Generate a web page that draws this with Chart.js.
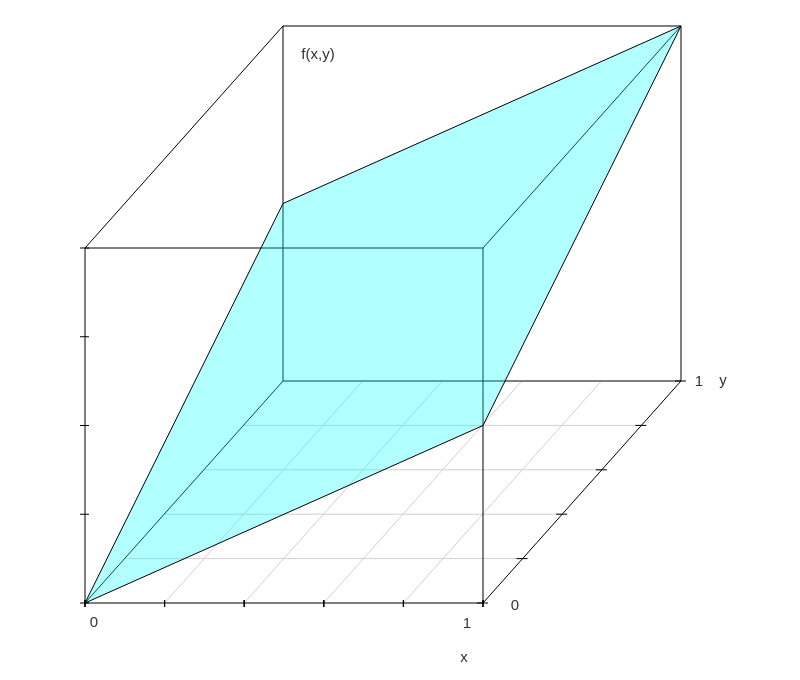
<!DOCTYPE html>
<html><head><meta charset="utf-8">
<script src="https://cdn.jsdelivr.net/npm/chart.js@4"></script>
<style>html,body{margin:0;padding:0;background:#fff}canvas{display:block}</style>
</head><body>
<canvas id="c" width="800" height="680"></canvas>
<script>
// ---- data ----
const xTicks = [0, 0.2, 0.4, 0.6, 0.8, 1];
const yTicks = [0, 0.2, 0.4, 0.6, 0.8, 1];
const zTicks = [0, 0.25, 0.5, 0.75, 1];
const xTickLabels = ['0', '1'];
const yTickLabels = ['0', '1'];
const surfaceX = [0, 1, 1, 0];
const surfaceY = [0, 0, 1, 1];
const surfaceZ = [0, 0.5, 1, 0.5];
const xTitle = 'x';
const yTitle = 'y';
const zTitle = 'f(x,y)';

// ---- oblique projection (persp-like) ----
const SX = 398, SZ = 355;           // pixels per unit x / z
const KX = 198 / SX, KY = 222 / SZ; // depth shift of y axis
function P(x, y, z) { return { x: x + KX * y, y: z + KY * y }; }
function off(p, dx, dy) { return { x: p.x + dx / SX, y: p.y - dy / SZ }; }

const datasets = [];
function seg(a, b, color, order) {
  datasets.push({ data: [a, b], showLine: true, borderColor: color, borderWidth: 1,
    pointRadius: 0, fill: false, tension: 0, order: order });
}

// surface polygon (on top)
const surf = surfaceX.map((x, i) => P(x, surfaceY[i], surfaceZ[i]));
surf.push(surf[0]);
datasets.push({ data: surf, showLine: true, borderColor: '#000', borderWidth: 1,
  backgroundColor: 'rgba(0,255,255,0.3)', fill: 'shape', pointRadius: 0, tension: 0, order: 0 });

// floor grid
xTicks.slice(1, -1).forEach(t => seg(P(t, 0, 0), P(t, 1, 0), '#d0d0d0', 3));
yTicks.slice(1, -1).forEach(t => seg(P(0, t, 0), P(1, t, 0), '#d0d0d0', 3));

// box edges
const edges = [
  [[0,0,0],[1,0,0]], [[0,0,0],[0,0,1]], [[1,0,0],[1,0,1]], [[0,0,1],[1,0,1]],
  [[0,1,0],[1,1,0]], [[0,1,0],[0,1,1]], [[1,1,0],[1,1,1]], [[0,1,1],[1,1,1]],
  [[0,0,0],[0,1,0]], [[1,0,0],[1,1,0]], [[0,0,1],[0,1,1]], [[1,0,1],[1,1,1]]
];
edges.forEach(e => seg(P(...e[0]), P(...e[1]), '#000', 2));

// ticks
xTicks.forEach(t => { const p = P(t, 0, 0); seg(off(p, 0, -3), off(p, 0, 4), '#000', 1); });
zTicks.forEach(t => { const p = P(0, 0, t); seg(off(p, -5, 0), off(p, 4, 0), '#000', 1); });
yTicks.forEach(t => { const p = P(1, t, 0); seg(off(p, -6, 0), off(p, 5, 0), '#000', 1); });

// labels
const labels = [
  { p: off(P(0, 0, 0), 9, 20), t: xTickLabels[0] },
  { p: off(P(1, 0, 0), -16, 21), t: xTickLabels[1] },
  { p: off(P(1, 0, 0), 32, 3), t: yTickLabels[0] },
  { p: off(P(1, 1, 0), 18, 1), t: yTickLabels[1] },
  { p: off(P(1, 0, 0), -19, 55), t: xTitle },
  { p: off(P(0, 1, 1), 0, 0) && off(P(1, 1, 0), 42, 0), t: yTitle },
  { p: off(P(0, 1, 1), 35, 29), t: zTitle }
];

const textPlugin = {
  id: 'texts',
  afterDraw(chart) {
    const ctx = chart.ctx, sx = chart.scales.x, sy = chart.scales.y;
    ctx.save();
    ctx.font = '15px "Liberation Sans", Arial, sans-serif';
    ctx.fillStyle = '#333';
    ctx.textAlign = 'center';
    ctx.textBaseline = 'middle';
    labels.forEach(l => ctx.fillText(l.t, sx.getPixelForValue(l.p.x), sy.getPixelForValue(l.p.y)));
    ctx.restore();
  }
};

new Chart(document.getElementById('c'), {
  type: 'scatter',
  data: { datasets },
  options: {
    responsive: false,
    animation: false,
    layout: { padding: 0 },
    plugins: { legend: { display: false }, tooltip: { enabled: false } },
    scales: {
      x: { type: 'linear', display: false, min: -85 / SX, max: (800 - 85) / SX },
      y: { type: 'linear', display: false, min: -(680 - 603) / SZ, max: 603 / SZ }
    }
  },
  plugins: [textPlugin]
});
</script>
</body></html>
